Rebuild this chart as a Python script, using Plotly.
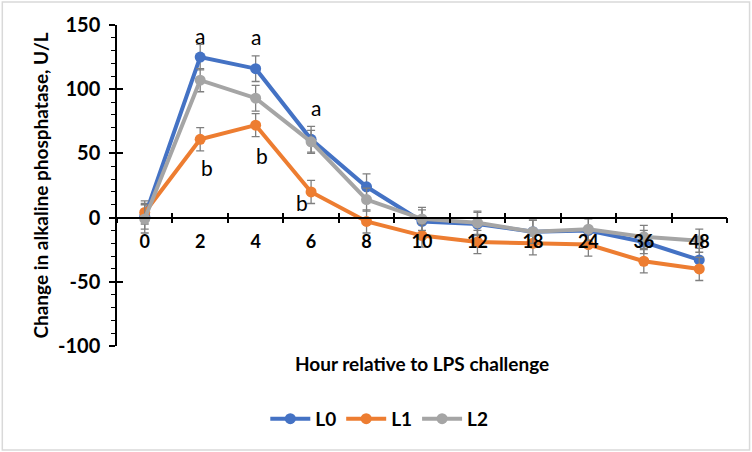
import plotly.graph_objects as go

hours = ["0", "2", "4", "6", "8", "10", "12", "18", "24", "36", "48"]
L0 = [1, 125, 116, 61, 24, -3, -5, -11, -10, -19, -33]
L1 = [4, 61, 72, 20, -3, -14, -19, -20, -21, -34, -40]
L2 = [-1, 107, 93, 59, 14, -1, -4, -11, -9, -15, -18]
L0_err = [10, 10, 10, 10, 10, 9, 9, 9, 9, 9, 9]
L1_err = [9, 9, 9, 9, 9, 9, 9, 9, 9, 9, 9]
L2_err = [11, 9, 10, 9, 9, 9, 9, 9, 9, 9, 9]
series_names = ["L0", "L1", "L2"]
colors = ["#4472C4", "#ED7D31", "#A5A5A5"]

y_tickvals = [-100, -50, 0, 50, 100, 150]
y_ticktext = ["-100", "-50", "0", "50", "100", "150"]

sig_hours = ["2", "4", "6", "2", "4", "6"]
sig_y = [142, 141, 86, 39, 48, 12]
sig_text = ["a", "a", "a", "b", "b", "b"]
sig_shift = [0, 0, 5, 7, 6, -9]

FONT = "Lato"

fig = go.Figure()
for name, vals, err, col in zip(series_names, [L0, L1, L2], [L0_err, L1_err, L2_err], colors):
    fig.add_trace(go.Scatter(
        x=hours, y=vals, name=name, mode="lines+markers",
        line=dict(color=col, width=4),
        marker=dict(color=col, size=11),
        error_y=dict(type="data", array=err, visible=True, color="#7F7F7F", thickness=1.3, width=4),
    ))

fig.update_layout(
    width=752, height=452,
    margin=dict(l=117, r=25, t=25, b=106),
    paper_bgcolor="white", plot_bgcolor="white",
    font=dict(family=FONT, color="black"),
    showlegend=True,
    legend=dict(orientation="h", x=0.43, xanchor="center", y=-0.227, yanchor="middle",
                font=dict(size=19, family=FONT, weight="bold"), itemwidth=40, traceorder="normal"),
    xaxis=dict(type="category", categoryorder="array", categoryarray=hours,
               range=[-0.5, 10.5], anchor="free", position=0.4,
               showline=True, linecolor="black", linewidth=1.5,
               ticks="outside", ticklen=5, tickcolor="black", tickwidth=1.5,
               tickson="boundaries", showgrid=False, zeroline=False, ticklabelstandoff=8,
               tickfont=dict(size=18, family=FONT, weight="bold")),
    xaxis2=dict(overlaying="x", anchor="free", position=0.4, range=[-0.5, 10.5],
                tickmode="linear", tick0=-0.5, dtick=1, ticks="inside", ticklen=5,
                tickcolor="black", tickwidth=1.5, showticklabels=False, showline=False,
                showgrid=False, zeroline=False),
    yaxis=dict(range=[-100, 150], tickmode="array", tickvals=y_tickvals, ticktext=y_ticktext,
               showline=True, linecolor="black", linewidth=1.5,
               ticks="outside", ticklen=6, tickcolor="black", tickwidth=1.5,
               minor=dict(dtick=10, tick0=0, ticks="outside", ticklen=4, tickcolor="black", tickwidth=1.2),
               showgrid=False, zeroline=False, ticklabelstandoff=5,
               tickfont=dict(size=20, family=FONT, weight="bold"),
               title=dict(text="Change in alkaline phosphatase, U/L", standoff=4,
                          font=dict(size=19, family=FONT, weight="bold"))),
    yaxis2=dict(overlaying="y", range=[-100, 150], dtick=50, ticks="inside", ticklen=6,
                tickcolor="black", tickwidth=1.5, showticklabels=False, showline=False,
                showgrid=False, zeroline=False, anchor="x"),
)
fig.add_trace(go.Scatter(x=[0], y=[0], xaxis="x2", yaxis="y2", mode="markers",
                         marker=dict(opacity=0), showlegend=False, hoverinfo="skip"))

for h, yv, t, s in zip(sig_hours, sig_y, sig_text, sig_shift):
    fig.add_annotation(x=hours.index(h), y=yv, text=t, showarrow=False, xshift=s,
                       font=dict(size=21, family=FONT, color="black"))

fig.add_annotation(xref="paper", yref="paper", x=0.5, y=-0.053, text="Hour relative to LPS challenge",
                   showarrow=False, font=dict(size=19, family=FONT, weight="bold"), yanchor="middle")

fig.add_shape(type="rect", xref="paper", yref="paper", x0=-0.188, x1=1.037, y0=-0.324, y1=1.072,
              line=dict(color="#D9D9D9", width=1.5), layer="below")

fig.write_html("out.html", config={"displayModeBar": False},
               post_script="document.body.style.margin='0';")
